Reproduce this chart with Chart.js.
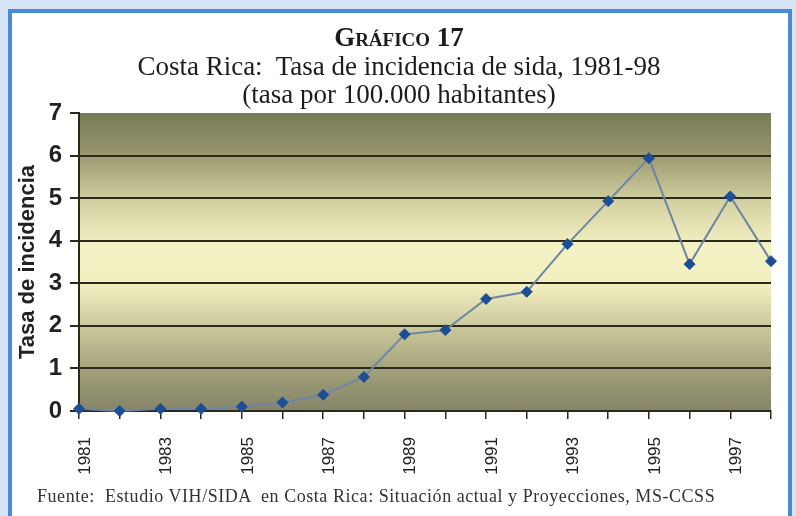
<!DOCTYPE html>
<html><head><meta charset="utf-8">
<script src="https://cdn.jsdelivr.net/npm/chart.js@4"></script>
<style>
html,body{margin:0;padding:0;}
body{width:796px;height:516px;background:#d5e5f5;position:relative;overflow:hidden;}
#frame{position:absolute;left:8px;top:9px;width:784px;height:520px;box-sizing:border-box;border:4px solid #4a8ad6;border-bottom:none;background:#fff;}
#wrap{position:absolute;left:0;top:0;width:796px;height:516px;}
.t{position:absolute;left:0;width:798px;text-align:center;font-family:'Liberation Serif','Times New Roman',serif;color:#1c1c1c;white-space:nowrap;line-height:27px;}
#t1{top:24px;font-size:27px;font-weight:bold;font-variant:small-caps;}
#t2{top:53px;font-size:27px;}
#t3{top:81px;font-size:27px;}
#foot{position:absolute;left:37px;top:486px;font-family:'Liberation Serif','Times New Roman',serif;font-size:18px;letter-spacing:0.55px;color:#333;white-space:pre;line-height:20px;}
</style>
</head><body>
<div id="frame"></div>
<div id="wrap"><canvas id="c" width="796" height="516"></canvas></div>
<div class="t" id="t1">Gráfico 17</div>
<div class="t" id="t2">Costa Rica:&nbsp; Tasa de incidencia de sida, 1981-98</div>
<div class="t" id="t3">(tasa por 100.000 habitantes)</div>
<div id="foot">Fuente:  Estudio VIH/SIDA  en Costa Rica: Situación actual y Proyecciones, MS-CCSS</div>
<script>
const years = ['1981','1982','1983','1984','1985','1986','1987','1988','1989','1990','1991','1992','1993','1994','1995','1996','1997','1998'];
const rates = [0.05, 0.0, 0.05, 0.05, 0.1, 0.2, 0.38, 0.8, 1.8, 1.9, 2.63, 2.8, 3.92, 4.93, 5.94, 3.45, 5.04, 3.52];
const labeledYears = ['1981','1983','1985','1987','1989','1991','1993','1995','1997'];
const yAxisTitle = 'Tasa de incidencia';
const yMin = 0, yMax = 7, yStep = 1;

const dark = '#2a291b';
const sans = "'Liberation Sans',Arial,sans-serif";

const plotBg = {
  id: 'plotBg',
  beforeDraw(chart) {
    const {ctx, chartArea: {left, top, right, bottom}} = chart;
    const g = ctx.createLinearGradient(0, top, 0, bottom);
    g.addColorStop(0.00, '#797a58');
    g.addColorStop(0.12, '#929269');
    g.addColorStop(0.30, '#d4d2a2');
    g.addColorStop(0.45, '#f4f1c4');
    g.addColorStop(0.58, '#f1eec0');
    g.addColorStop(0.75, '#c2c093');
    g.addColorStop(0.90, '#999874');
    g.addColorStop(1.00, '#86856a');
    ctx.save();
    ctx.fillStyle = g;
    ctx.fillRect(left, top, right - left, bottom - top);
    ctx.restore();
  }
};

new Chart(document.getElementById('c'), {
  type: 'line',
  data: {
    labels: years,
    datasets: [{
      data: rates,
      borderColor: '#6e86a6',
      borderWidth: 2,
      pointStyle: 'rectRot',
      pointRadius: 5.5,
      pointBackgroundColor: '#1c4e96',
      pointBorderColor: '#1c4e96',
      pointBorderWidth: 1,
      tension: 0,
      clip: false
    }]
  },
  options: {
    responsive: false,
    animation: false,
    events: [],
    layout: {padding: {top: 113, right: 25, bottom: 0, left: 0}},
    plugins: {legend: {display: false}, tooltip: {enabled: false}, title: {display: false}},
    scales: {
      x: {
        type: 'category',
        offset: false,
        afterFit(s) { s.height = 105; s.paddingLeft = 0; s.paddingRight = 0; },
        grid: {drawOnChartArea: false, tickColor: dark, tickLength: 8, lineWidth: 1.5},
        border: {color: dark, width: 2},
        ticks: {
          autoSkip: false, maxRotation: 90, minRotation: 90,
          padding: 18, labelOffset: 6,
          color: '#222',
          font: {family: sans, size: 17},
          callback(v, i) { return labeledYears.includes(years[i]) ? years[i] : ''; }
        }
      },
      y: {
        min: yMin, max: yMax,
        afterFit(s) { s.width = 79; s.paddingTop = 0; s.paddingBottom = 0; },
        grid: {
          color: c => (c.tick && c.tick.value === yMax) ? 'rgba(0,0,0,0)' : dark,
          lineWidth: 2, tickColor: dark, tickLength: 9
        },
        border: {color: dark, width: 2},
        ticks: {stepSize: yStep, padding: 8, color: '#222', font: {family: sans, size: 24, weight: 'bold'}},
        title: {display: true, text: yAxisTitle, color: '#222', padding: {top: 15, bottom: 0}, font: {family: sans, size: 22, weight: 'bold'}}
      }
    }
  },
  plugins: [plotBg]
});
</script>
</body></html>
